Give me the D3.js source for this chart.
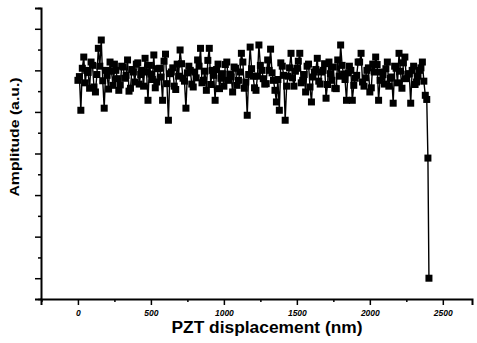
<!DOCTYPE html>
<html>
<head>
<meta charset="UTF-8">
<script src="https://d3js.org/d3.v7.min.js"></script>
<style>
  body { margin: 0; background: #fff; font-family: "Liberation Sans", Arial, sans-serif; }
  svg { display: block; }
  .tick-label { font-size: 8.5px; font-weight: bold; font-style: italic; fill: #000; }
  .axis-title { font-weight: bold; fill: #000; }
</style>
</head>
<body>
<div id="chart"></div>
<script>
// PZT displacement (nm)
const displacement = [
  0, 10, 20, 30, 40, 50, 60, 70, 80, 90, 100, 110, 120, 130, 140, 150, 160, 170, 180, 190,
  200, 210, 220, 230, 240, 250, 260, 270, 280, 290, 300, 310, 320, 330, 340, 350, 360, 370, 380, 390,
  400, 410, 420, 430, 440, 450, 460, 470, 480, 490, 500, 510, 520, 530, 540, 550, 560, 570, 580, 590,
  600, 610, 620, 630, 640, 650, 660, 670, 680, 690, 700, 710, 720, 730, 740, 750, 760, 770, 780, 790,
  800, 810, 820, 830, 840, 850, 860, 870, 880, 890, 900, 910, 920, 930, 940, 950, 960, 970, 980, 990,
  1000, 1010, 1020, 1030, 1040, 1050, 1060, 1070, 1080, 1090, 1100, 1110, 1120, 1130, 1140, 1150, 1160, 1170, 1180, 1190,
  1200, 1210, 1220, 1230, 1240, 1250, 1260, 1270, 1280, 1290, 1300, 1310, 1320, 1330, 1340, 1350, 1360, 1370, 1380, 1390,
  1400, 1410, 1420, 1430, 1440, 1450, 1460, 1470, 1480, 1490, 1500, 1510, 1520, 1530, 1540, 1550, 1560, 1570, 1580, 1590,
  1600, 1610, 1620, 1630, 1640, 1650, 1660, 1670, 1680, 1690, 1700, 1710, 1720, 1730, 1740, 1750, 1760, 1770, 1780, 1790,
  1800, 1810, 1820, 1830, 1840, 1850, 1860, 1870, 1880, 1890, 1900, 1910, 1920, 1930, 1940, 1950, 1960, 1970, 1980, 1990,
  2000, 2010, 2020, 2030, 2040, 2050, 2060, 2070, 2080, 2090, 2100, 2110, 2120, 2130, 2140, 2150, 2160, 2170, 2180, 2190,
  2200, 2210, 2220, 2230, 2240, 2250, 2260, 2270, 2280, 2290, 2300, 2310, 2320, 2330, 2340, 2350, 2360, 2370, 2380, 2390,
  2398, 2405
];

// Amplitude (a.u.)
const amplitude = [
  4.76, 4.85, 4.04, 5.05, 5.32, 4.70, 5.00, 4.95, 4.57, 5.20, 5.12, 4.60, 4.48, 4.90, 5.53, 5.10, 5.73, 4.75, 4.09, 5.00,
  4.88, 4.55, 5.20, 4.98, 4.64, 5.15, 5.00, 4.80, 4.52, 4.65, 5.10, 5.08, 4.81, 4.88, 5.25, 4.50, 4.57, 5.02, 4.96, 4.72,
  5.15, 5.18, 4.67, 4.90, 5.00, 4.62, 5.29, 4.96, 4.28, 5.12, 4.91, 4.78, 5.37, 4.58, 4.72, 5.04, 5.05, 4.84, 4.28, 5.22,
  5.39, 4.68, 3.80, 4.92, 4.96, 5.06, 4.62, 4.54, 5.15, 4.86, 5.49, 5.16, 4.81, 4.74, 4.09, 4.94, 5.10, 5.00, 4.67, 4.60,
  4.96, 4.82, 5.25, 5.10, 5.53, 4.70, 4.76, 4.98, 4.52, 5.24, 5.53, 4.66, 5.00, 4.88, 4.28, 5.02, 5.15, 4.56, 4.81, 4.92,
  4.62, 5.14, 5.20, 4.76, 4.91, 4.84, 4.48, 5.08, 5.05, 4.64, 4.76, 4.96, 5.41, 5.20, 4.57, 4.72, 3.92, 4.90, 5.56, 5.04,
  4.86, 4.58, 4.52, 4.86, 5.61, 5.12, 5.00, 4.80, 4.67, 4.68, 5.25, 5.00, 5.51, 4.94, 4.76, 4.52, 4.24, 4.78, 4.04, 5.18,
  5.10, 4.88, 3.80, 4.62, 4.86, 5.06, 5.41, 4.82, 4.62, 4.98, 5.05, 5.22, 5.41, 4.70, 4.76, 4.90, 4.48, 5.10, 5.15, 4.60,
  4.24, 4.84, 4.96, 5.02, 5.29, 4.74, 4.67, 4.96, 5.00, 5.16, 4.33, 4.66, 5.20, 4.92, 4.76, 5.08, 4.57, 4.56, 5.25, 4.86,
  5.61, 5.12, 4.91, 4.78, 4.28, 4.94, 5.10, 5.00, 4.28, 4.64, 4.81, 4.88, 5.20, 5.20, 5.41, 4.72, 4.62, 4.82, 5.00, 5.06,
  4.48, 4.58, 5.15, 4.96, 5.32, 5.14, 4.28, 4.76, 4.96, 4.90, 4.67, 5.04, 5.20, 4.62, 4.81, 4.84, 4.21, 5.10, 5.05, 4.70,
  5.41, 4.98, 4.57, 5.18, 5.32, 4.80, 4.91, 4.92, 4.21, 5.00, 5.10, 4.66, 4.72, 4.86, 5.00, 5.06, 5.20, 4.74, 4.40, 4.30,
  2.89, 0.00
];

const xMajor = [0, 500, 1000, 1500, 2000, 2500];
const xMinor = [-250, 250, 750, 1250, 1750, 2250];
const yMajor = [0, 1, 2, 3, 4, 5, 6];
const yMinor = [-0.5, 0.5, 1.5, 2.5, 3.5, 4.5, 5.5, 6.5];

const W = 477, H = 343;
const svg = d3.select('#chart').append('svg')
  .attr('width', W).attr('height', H);

const x = d3.scaleLinear().domain([-253, 2700]).range([41, 472]);
const y = d3.scaleLinear().domain([-0.5, 6.5]).range([299, 8]);

const data = displacement.map((d, i) => ({ x: d, y: amplitude[i] }));

// data line + markers
const line = d3.line().x(d => x(d.x)).y(d => y(d.y));
svg.append('path')
  .datum(data)
  .attr('fill', 'none')
  .attr('stroke', '#000')
  .attr('stroke-width', 1.4)
  .attr('d', line);

svg.selectAll('.pt')
  .data(data)
  .enter().append('rect')
  .attr('class', 'pt')
  .attr('x', d => x(d.x) - 3.5)
  .attr('y', d => y(d.y) - 3.5)
  .attr('width', 7)
  .attr('height', 7)
  .attr('fill', '#000');

// x axis
const xAxis = svg.append('g').attr('transform', `translate(0,${y(-0.5)})`);
xAxis.call(d3.axisBottom(x).tickValues(xMajor).tickSize(6).tickFormat(d3.format('d')));
xAxis.append('g').call(d3.axisBottom(x).tickValues(xMinor).tickSize(3).tickFormat(''))
  .select('.domain').remove();
xAxis.selectAll('.domain').attr('stroke-width', 2);
xAxis.selectAll('line').attr('stroke-width', 1.5);
xAxis.selectAll('text').attr('class', 'tick-label').attr('dy', '0.9em');

// y axis
const yAxis = svg.append('g').attr('transform', `translate(${x(-253)},0)`);
yAxis.call(d3.axisLeft(y).tickValues(yMajor).tickSize(6).tickFormat(''));
yAxis.append('g').call(d3.axisLeft(y).tickValues(yMinor).tickSize(3).tickFormat(''))
  .select('.domain').remove();
yAxis.selectAll('.domain').attr('stroke-width', 2);
yAxis.selectAll('line').attr('stroke-width', 1.5);

// titles
svg.append('text')
  .attr('class', 'axis-title')
  .attr('x', 267).attr('y', 333)
  .attr('text-anchor', 'middle')
  .attr('font-size', 16)
  .attr('textLength', 191)
  .attr('lengthAdjust', 'spacingAndGlyphs')
  .text('PZT displacement (nm)');

svg.append('text')
  .attr('class', 'axis-title')
  .attr('transform', 'translate(19,137) rotate(-90)')
  .attr('text-anchor', 'middle')
  .attr('font-size', 13)
  .attr('textLength', 119)
  .attr('lengthAdjust', 'spacingAndGlyphs')
  .text('Amplitude (a.u.)');
</script>
</body>
</html>
